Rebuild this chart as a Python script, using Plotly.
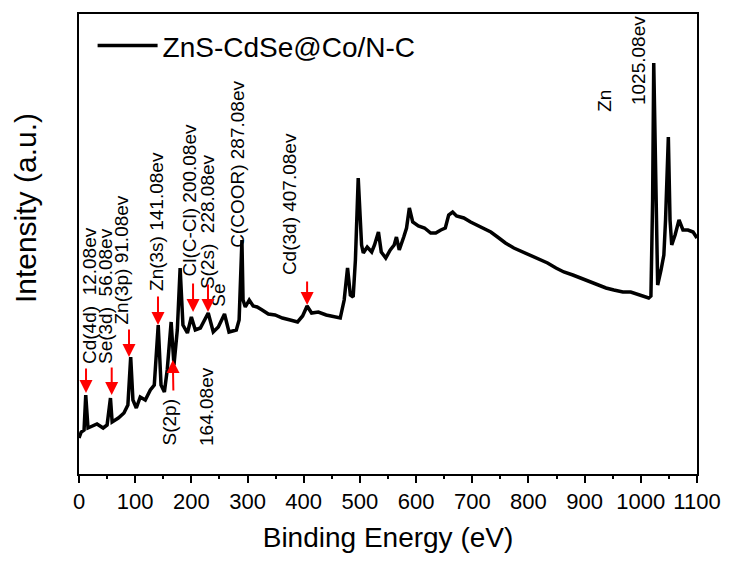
import plotly.graph_objects as go

# ---- data ----
energy_ev = [0, 4, 9, 12, 16, 23, 32, 43, 50, 56, 59, 70, 80, 87, 92, 96, 102, 109, 118, 127,
             134, 141, 146, 152, 157, 164, 169, 175, 180, 185, 193, 200, 207, 216, 221, 230, 239,
             248, 259, 267, 280, 285, 290, 292, 296, 303, 310, 317, 326, 337, 349, 362, 376, 389,
             398, 406, 414, 426, 440, 455, 465, 472, 478, 483, 488, 492, 497, 503, 506, 513, 521,
             526, 533, 538, 546, 554, 561, 565, 570, 578, 583, 588, 594, 604, 615, 626, 635, 644,
             652, 658, 665, 672, 685, 697, 715, 733, 745, 759, 774, 790, 804, 820, 834, 849, 863,
             879, 893, 909, 923, 938, 952, 968, 982, 997, 1014, 1018, 1021, 1023, 1027, 1030,
             1036, 1041, 1044, 1049, 1052, 1055, 1061, 1068, 1075, 1084, 1093, 1100]
intensity = [36, 42, 44, 79, 46, 48, 50, 46, 49, 76, 52, 56, 61, 69, 117, 74, 66, 77, 74, 84,
             89, 149, 89, 82, 104, 152, 109, 144, 206, 149, 141, 157, 144, 146, 152, 161, 142,
             147, 160, 142, 144, 154, 234, 174, 167, 174, 168, 167, 164, 160, 159, 156, 154, 152,
             158, 168, 161, 162, 159, 157, 156, 174, 206, 179, 177, 214, 296, 229, 221, 227, 222,
             229, 242, 222, 216, 224, 229, 237, 224, 237, 246, 266, 252, 248, 246, 241, 241, 244,
             246, 259, 262, 258, 256, 252, 247, 242, 237, 231, 226, 222, 219, 215, 211, 206, 202,
             199, 196, 192, 189, 186, 184, 182, 182, 179, 176, 178, 274, 411, 274, 189,
             204, 219, 254, 337, 254, 229, 239, 254, 244, 244, 242, 236]

series_name = "ZnS-CdSe@Co/N-C"
x_ticks = [0, 100, 200, 300, 400, 500, 600, 700, 800, 900, 1000, 1100]

# peak labels: text, x (eV), y (a.u.) of text centre
label_text = ["Cd(4d)  12.08ev", "Se(3d)  56.08ev", "Zn(3p) 91.08ev", "Zn(3s) 141.08ev",
              "Cl(C-Cl) 200.08ev", "S(2s)  228.08ev", "Se", "C(COOR) 287.08ev",
              "Cd(3d) 407.08ev", "S(2p)", "164.08ev", "Zn", "1025.08ev"]
label_x = [17.8, 46.3, 73.9, 137, 195, 228, 247, 281, 374, 161, 226, 934, 995]
label_y = [178, 178, 214, 253, 274, 252, 179, 310, 270, 52, 68, 373, 413]

# red arrows: tip (x, y) and tail (x, y)
arrow_tip_x = [12.5, 58.2, 89, 140.6, 167, 203, 229.6, 406]
arrow_tip_y = [81, 79, 117, 149, 114, 162, 162, 169]
arrow_tail_x = [12.5, 58.2, 89, 140.6, 168, 203, 229.6, 406]
arrow_tail_y = [107, 108, 146, 179, 82, 192, 191, 194]

FONT = "Arial, Liberation Sans, sans-serif"

fig = go.Figure()
fig.add_trace(go.Scatter(
    x=energy_ev, y=intensity, mode="lines", name=series_name,
    line=dict(color="black", width=3.5),
))

annotations = []
for t, x, y in zip(label_text, label_x, label_y):
    annotations.append(dict(
        x=x, y=y, xref="x", yref="y", text=t, showarrow=False, textangle=-90,
        xanchor="center", yanchor="middle",
        font=dict(family=FONT, size=19, color="black"),
    ))
for tx, ty, ax, ay in zip(arrow_tip_x, arrow_tip_y, arrow_tail_x, arrow_tail_y):
    annotations.append(dict(
        x=tx, y=ty, xref="x", yref="y", ax=ax, ay=ay, axref="x", ayref="y",
        text="", showarrow=True, arrowhead=2, arrowsize=1.3, arrowwidth=2,
        arrowcolor="red", standoff=0,
    ))
annotations.append(dict(
    x=-0.0874, y=0.578, xref="paper", yref="paper", text="Intensity (a.u.)",
    showarrow=False, textangle=-90, xanchor="center", yanchor="middle",
    font=dict(family=FONT, size=30, color="black"),
))

fig.update_layout(
    width=732, height=563,
    margin=dict(l=79, r=35, t=14, b=89),
    paper_bgcolor="white", plot_bgcolor="white",
    font=dict(family=FONT, color="black"),
    showlegend=True,
    legend=dict(x=0.022, y=0.985, xanchor="left", yanchor="top",
                bgcolor="rgba(0,0,0,0)", borderwidth=0,
                font=dict(family=FONT, size=28, color="black"),
                itemwidth=60),
    annotations=annotations,
    xaxis=dict(
        range=[0, 1100], tickvals=x_ticks, ticktext=[str(v) for v in x_ticks],
        ticks="outside", ticklen=7, tickwidth=2, tickcolor="black",
        minor=dict(dtick=50, ticks="outside", ticklen=3, tickwidth=2, tickcolor="black"),
        showline=True, linecolor="black", linewidth=2, mirror=True,
        showgrid=False, zeroline=False,
        tickfont=dict(family=FONT, size=22, color="black"),
        title=dict(text="Binding Energy (eV)", font=dict(family=FONT, size=28, color="black"),
                   standoff=14),
    ),
    yaxis=dict(
        range=[0, 460], showticklabels=False, ticks="",
        showline=True, linecolor="black", linewidth=2, mirror=True,
        showgrid=False, zeroline=False,
    ),
)

fig.write_html("out.html")
